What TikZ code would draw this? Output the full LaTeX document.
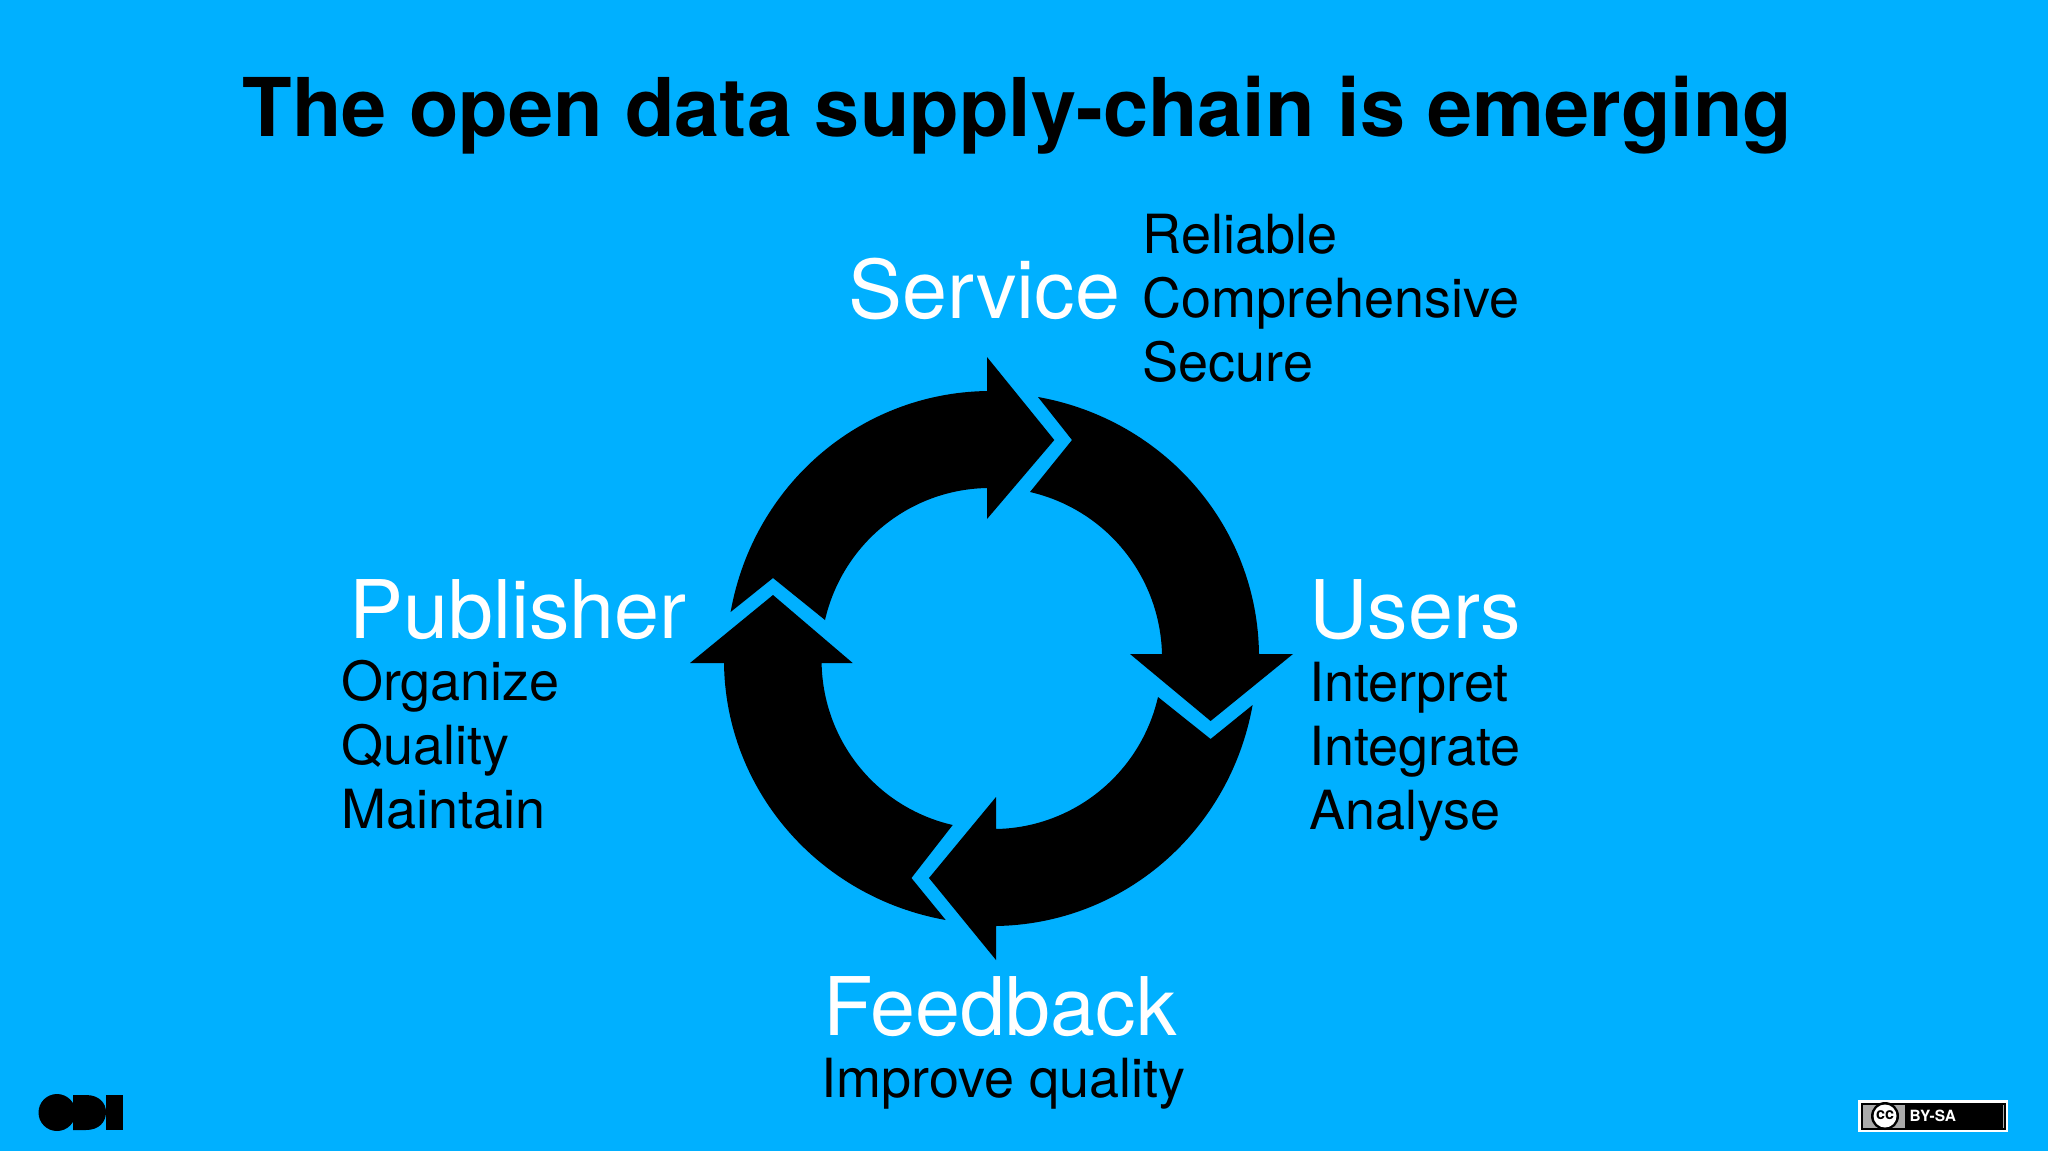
\documentclass[tikz,border=0pt]{standalone}
\usepackage{fontspec}
\setmainfont{TeX Gyre Heros}
\usetikzlibrary{positioning}
\definecolor{odiblue}{RGB}{0,176,255}
\definecolor{badgegrey}{RGB}{170,170,170}
\tikzset{title node/.style={anchor=base,inner sep=0pt,font=\fontsize{23.05}{28}\selectfont\bfseries},
	main node/.style={anchor=base west,inner sep=0pt,white,font=\fontsize{23}{28}\selectfont},
	item/.style={anchor=base west,inner sep=0pt,font=\fontsize{15.35}{18}\selectfont},
	cycle arrow/.style={fill=black},
}

\begin{document}
\begin{tikzpicture}[x=0.01cm,y=-0.01cm]
	\useasboundingbox (0,0) rectangle (2048,1151);
	\fill[odiblue] (0,0) rectangle (2048,1151);

	\node[title node] (title) at (1017.5,136) {The open data supply-chain is emerging};

	\node[main node] (service) at (847.5,318.5) {Service};
	\node[item] (reliable) at (1142,253.5) {Reliable};
	\node[below=0.64cm of reliable.base west,item] (comprehensive) {Comprehensive};
	\node[below=0.64cm of comprehensive.base west,item] (secure) {Secure};

	\node[main node] (publisher) at (348.5,638.5) {Publisher};
	\node[item] (organize) at (340.5,700) {Organize};
	\node[below=0.64cm of organize.base west,item] (quality) {Quality};
	\node[below=0.64cm of quality.base west,item] (maintain) {Maintain};

	\node[main node] (users) at (1308.5,638.5) {Users};
	\node[item] (interpret) at (1308.5,701) {Interpret};
	\node[below=0.64cm of interpret.base west,item] (integrate) {Integrate};
	\node[below=0.64cm of integrate.base west,item] (analyse) {Analyse};

	\node[main node] (feedback) at (822.5,1035) {Feedback};
	\node[item] (improve) at (820.5,1097) {Improve quality};

	% top arrow
	\fill[cycle arrow] (730.6,612) .. controls (753,486) and (859,393) .. (987,391)
		-- (987,357) -- (1054.3,440) -- (987,519) -- (987,488)
		.. controls (909,489.5) and (842.5,544) .. (825,620) -- (773,578) -- cycle;
	% right arrow
	\fill[cycle arrow] (1038,397) .. controls (1164,419.5) and (1257.5,526) .. (1259,654)
		-- (1293,654) -- (1210.6,721) -- (1130,654) -- (1162,654)
		.. controls (1160,576) and (1106,509.5) .. (1030,492) -- (1072,440) -- cycle;
	% bottom arrow
	\fill[cycle arrow] (1252.6,705) .. controls (1230,831) and (1124,924) .. (996,926)
		-- (996,960) -- (929,878) -- (996,797) -- (996,829)
		.. controls (1074,827.5) and (1140.5,773) .. (1158,697) -- (1210.6,739) -- cycle;
	% left arrow
	\fill[cycle arrow] (945.7,920) .. controls (819.7,897.5) and (725.5,791) .. (724,663)
		-- (690,663) -- (773,595) -- (852.7,663) -- (821.6,663)
		.. controls (823,741) and (876.7,807.5) .. (952.7,825) -- (911.4,878) -- cycle;

	% logo
	\fill (57,1112.5) circle (18.5);
	\fill (73,1095) -- (86,1095) .. controls (99,1095) and (106,1103) .. (106,1112)
		.. controls (106,1122) and (99,1130) .. (86,1130) -- (73,1130) -- cycle;
	\fill (106,1095) rectangle (123,1129.5);

	% licence badge
	\fill[white] (1858,1100) rectangle (2008,1132);
	\fill[black] (1860.5,1102.5) rectangle (2006,1130);
	\fill[badgegrey] (1862.5,1104.5) rectangle (2004,1128);
	\fill[black] (1905,1104.5) rectangle (2003,1128);
	\fill[black] (1885,1116) circle (14);
	\fill[white] (1885,1116) circle (11.5);
	\node[inner sep=0pt,font=\fontsize{4.6}{5}\selectfont\bfseries] (cc) at (1885,1115.5) {cc};
	\node[anchor=base west,inner sep=0pt,white,font=\fontsize{4.4}{5}\selectfont\bfseries] (bysa) at (1909,1121) {BY-SA};
\end{tikzpicture}
\end{document}
